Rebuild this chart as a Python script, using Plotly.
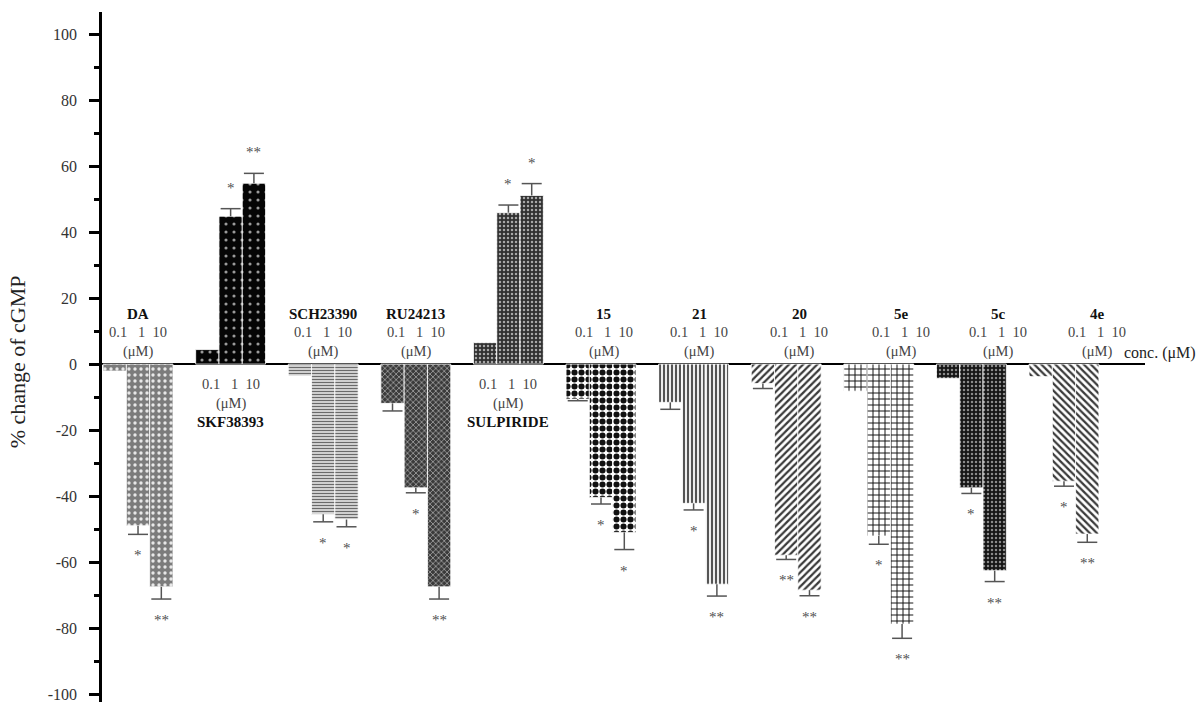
import plotly.graph_objects as go

# ---------------- data ----------------
groups = ["DA", "SKF38393", "SCH23390", "RU24213", "SULPIRIDE",
          "15", "21", "20", "5e", "5c", "4e"]
conc_labels = ["0.1", "1", "10"]

values_01 = [-2.1, 4.4, -3.6, -11.9, 6.5, -10.6, -11.6, -5.9, -8.2, -4.3, -3.8]
err_01 = [0, 0, 0, 2.3, 0, 0.5, 2.1, 1.5, 0, 0, 0]
values_1 = [-49.0, 44.8, -45.5, -37.5, 45.9, -40.4, -42.2, -57.9, -52.1, -37.5, -35.5]
err_1 = [2.6, 2.3, 2.3, 1.5, 2.3, 2.0, 2.0, 1.3, 2.5, 1.7, 1.5]
values_10 = [-67.5, 54.8, -47.1, -67.5, 51.1, -51.0, -66.7, -68.5, -78.8, -62.6, -51.5]
err_10 = [3.7, 3.0, 2.2, 3.7, 3.6, 5.2, 3.6, 1.7, 4.3, 3.3, 2.5]
stars_1 = ["*", "*", "*", "*", "*", "*", "*", "**", "*", "*", "*"]
stars_10 = ["**", "**", "*", "**", "*", "*", "**", "**", "**", "**", "**"]

y_tick_values = [100, 80, 60, 40, 20, 0, -20, -40, -60, -80, -100]
y_tick_labels = ["100", "80", "60", "40", "20", "0", "-20", "-40", "-60", "-80", "-100"]

# ---------------- styles ----------------
SERIF = "Liberation Serif"
bar_w = 0.2516
offsets = [-bar_w, 0.0, bar_w]
label_shift = [0, 0, 0, 0, 0, 0.03, 0.06, 0.14, 0.24, 0.29, 0.36]
patterns = [
    dict(shape=".", bgcolor="#7c7c7c", fgcolor="#e8e8e8", size=6, solidity=0.25),
    dict(shape=".", bgcolor="#050505", fgcolor="#9a9a9a", size=8, solidity=0.12),
    dict(shape="-", bgcolor="#ffffff", fgcolor="#6a6a6a", size=3, solidity=0.55),
    dict(shape="x", bgcolor="#3a3a3a", fgcolor="#bdbdbd", size=4, solidity=0.3),
    dict(shape=".", bgcolor="#303030", fgcolor="#a8a8a8", size=4, solidity=0.3),
    dict(shape=".", bgcolor="#ffffff", fgcolor="#111111", size=7, solidity=0.6),
    dict(shape="|", bgcolor="#ffffff", fgcolor="#555555", size=4, solidity=0.55),
    dict(shape="/", bgcolor="#ffffff", fgcolor="#3a3a3a", size=5, solidity=0.45),
    dict(shape="+", bgcolor="#ffffff", fgcolor="#111111", size=6, solidity=0.3),
    dict(shape=".", bgcolor="#151515", fgcolor="#8a8a8a", size=4, solidity=0.3),
    dict(shape="\\", bgcolor="#ffffff", fgcolor="#3a3a3a", size=5, solidity=0.45),
]

fig = go.Figure()

for k, name in enumerate(groups):
    vals = [values_01[k], values_1[k], values_10[k]]
    p = patterns[k]
    fig.add_trace(go.Bar(
        x=[k + o for o in offsets], y=vals, width=bar_w,
        marker=dict(color=p["bgcolor"], line=dict(color="white", width=0.8),
                    pattern=dict(fillmode="replace", **p)),
        name=name, showlegend=False, hoverinfo="skip",
    ))

# error bars (one-sided, away from zero)
cap = 0.108
ex, ey = [], []
for k in range(len(groups)):
    vals = [values_01[k], values_1[k], values_10[k]]
    errs = [err_01[k], err_1[k], err_10[k]]
    for o, v, e in zip(offsets, vals, errs):
        if e <= 0:
            continue
        s = 1 if v >= 0 else -1
        tip = v + s * e
        xc = k + o
        ex += [xc, xc, None, xc - cap, xc + cap, None]
        ey += [v, tip, None, tip, tip, None]
fig.add_trace(go.Scatter(x=ex, y=ey, mode="lines",
                         line=dict(color="#555555", width=1.5),
                         showlegend=False, hoverinfo="skip"))

ann = []
# stars
for k in range(len(groups)):
    for j, (v, e, st) in enumerate([(values_1[k], err_1[k], stars_1[k]),
                                     (values_10[k], err_10[k], stars_10[k])]):
        s = 1 if v >= 0 else -1
        tip = v + s * e
        ann.append(dict(x=k + offsets[j + 1], y=tip, text=st, showarrow=False,
                        xanchor="center", yanchor="bottom" if s > 0 else "top",
                        yshift=11 if s > 0 else -11,
                        font=dict(family=SERIF, size=15, color="#505050")))

# group labels
conc_text = conc_labels[0] + "\u00a0\u00a0\u00a0" + conc_labels[1] + "\u00a0\u00a0" + conc_labels[2]
for k, name in enumerate(groups):
    xl = k + label_shift[k]
    positive = values_10[k] > 0
    if positive:
        rows = [(conc_text, -5.9, False), ("(\u03bcM)", -11.9, False), (name, -17.4, True)]
    else:
        rows = [(name, 15.2, True), (conc_text, 9.6, False), ("(\u03bcM)", 3.8, False)]
    for txt, yy, bold in rows:
        ann.append(dict(x=xl, y=yy, text=f"<b>{txt}</b>" if bold else txt,
                        showarrow=False, xanchor="center", yanchor="middle",
                        font=dict(family=SERIF, size=15 if bold else 14.5,
                                  color="#111111" if bold else "#444444")))

# axis label on the zero line
ann.append(dict(xref="paper", x=0.978, y=0, text="conc. (\u03bcM)", showarrow=False,
                xanchor="left", yanchor="bottom", yshift=0,
                font=dict(family=SERIF, size=16, color="#222222")))
# y title
ann.append(dict(xref="paper", yref="paper", x=-0.081, y=0.493,
                text="% change of cGMP", textangle=-90, showarrow=False,
                xanchor="center", yanchor="middle",
                font=dict(family=SERIF, size=22, color="#222222")))

fig.update_layout(
    width=1202, height=702,
    margin=dict(l=102, r=57, t=12, b=0),
    paper_bgcolor="white", plot_bgcolor="white",
    barmode="overlay",
    annotations=ann,
    xaxis=dict(range=[-0.389, 10.875], visible=False, showgrid=False, zeroline=False),
    yaxis=dict(range=[-102.4, 106.7], showgrid=False,
               zeroline=True, zerolinecolor="black", zerolinewidth=2.2,
               showline=True, linecolor="black", linewidth=2.5,
               ticks="outside", ticklen=10, tickwidth=2.5, tickcolor="black",
               tickvals=y_tick_values, ticktext=y_tick_labels,
               ticklabelstandoff=9, ticklabeloverflow="allow",
               tickfont=dict(family=SERIF, size=16, color="#333333"),
               minor=dict(dtick=10, ticks="outside", ticklen=5, tickwidth=2.5,
                          tickcolor="black", showgrid=False)),
)

fig.write_html("out.html", config={"displayModeBar": False},
               post_script="document.body.style.margin='0px';")
